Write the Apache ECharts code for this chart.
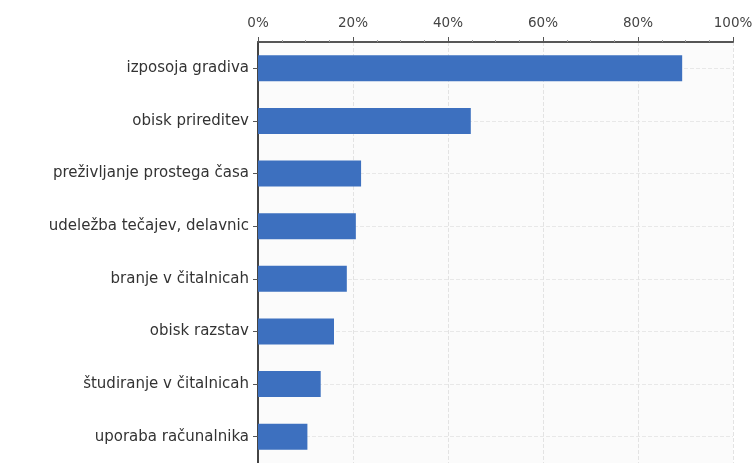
<!DOCTYPE html>
<html><head><meta charset="utf-8">
<script src="https://cdn.jsdelivr.net/npm/echarts@6/dist/echarts.min.js"></script>
<style>html,body{margin:0;padding:0;background:#fff}#c{width:756px;height:463px}</style>
</head><body><div id="c"></div>
<script>
const categories = ["izposoja gradiva","obisk prireditev","preživljanje prostega časa","udeležba tečajev, delavnic","branje v čitalnicah","obisk razstav","študiranje v čitalnicah","uporaba računalnika"];
const values = [89.3, 44.8, 21.7, 20.6, 18.7, 16.0, 13.2, 10.4];
const xTicks = [0, 20, 40, 60, 80, 100];

const chart = echarts.init(document.getElementById('c'), null, {renderer:'canvas'});
chart.setOption({
  animation:false,
  grid:{left:258, right:23, top:42, bottom:-5, show:true, backgroundColor:'#fbfbfb', borderWidth:0},
  xAxis:{type:'value', position:'top', min:xTicks[0], max:xTicks[xTicks.length-1], interval:20,
    axisLine:{show:true, lineStyle:{color:'#555', width:2}},
    axisTick:{show:true, length:5, lineStyle:{color:'#555'}},
    minorTick:{show:true, splitNumber:4, length:2, lineStyle:{color:'#999'}},
    axisLabel:{formatter:'{value}%', color:'#444', fontFamily:'DejaVu Sans', fontSize:13.5, margin:12},
    splitLine:{show:true, lineStyle:{color:'#e3e3e3', type:'dashed'}}
  },
  yAxis:{type:'category', data:categories, inverse:true,
    axisLine:{show:true, lineStyle:{color:'#444', width:2}},
    axisTick:{show:true, alignWithLabel:true, length:5, lineStyle:{color:'#555'}},
    axisLabel:{color:'#333', fontFamily:'DejaVu Sans', fontSize:15, margin:9},
    splitLine:{show:true, alignWithLabel:true, lineStyle:{color:'#e8e8e8', type:'dashed'}}
  },
  series:[{type:'bar', data:values, barWidth:26, itemStyle:{color:'#3d70bf'}, z:3}]
});
</script></body></html>
